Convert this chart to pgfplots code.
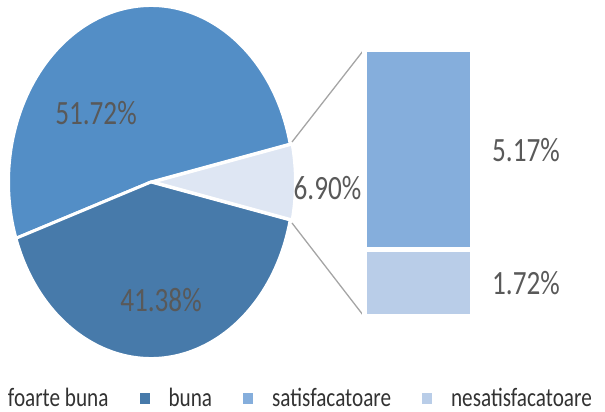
\documentclass[border=0pt]{standalone}
\usepackage{pgfplots}
\pgfplotsset{compat=1.18}
\usepackage{fontspec}
\setmainfont{Carlito}
\newfontfamily\cfont[FakeStretch=0.8]{Carlito}

\definecolor{cFoarte}{RGB}{83,142,198}
\definecolor{cBuna}{RGB}{71,122,170}
\definecolor{cSat}{RGB}{133,174,220}
\definecolor{cNes}{RGB}{185,205,232}
\definecolor{cPale}{RGB}{222,230,243}
\definecolor{cLabel}{RGB}{89,89,89}
\definecolor{cLegend}{RGB}{50,50,50}
\definecolor{cLine}{RGB}{165,165,165}

\newcommand{\labelfont}{\cfont\fontsize{34}{40}\selectfont}
\newcommand{\legendfont}{\cfont\fontsize{26.5}{31}\selectfont}

\pgfplotsset{
  legsq/.style={legend image code/.code={\fill[##1, draw=none] (0pt,-5.5pt) rectangle (10pt,5.5pt);}},
}

\begin{document}
\begin{tikzpicture}
\useasboundingbox (0,0) rectangle (605pt,412pt);

% pie shares (%): foarte buna, buna, other (satisfacatoare + nesatisfacatoare)
\pgfmathsetmacro{\hA}{6.90*3.6/2}
\pgfmathsetmacro{\aA}{\hA+51.72*3.6}
\pgfmathsetmacro{\aB}{\aA+41.38*3.6}
\def\cx{151}
\def\cy{230}

\begin{axis}[
    at={(0,0)}, anchor=south west,
    width=605pt, height=412pt, scale only axis,
    xmin=0, xmax=605, ymin=0, ymax=412,
    hide axis, clip=false,
    legend style={
        at={(axis cs:-21,13.5)}, anchor=west,
        draw=none, fill=none, inner sep=0pt, outer sep=0pt,
        legend columns=4,
        font=\legendfont, text=cLegend,
        cells={anchor=west},
        nodes={inner sep=0pt},
        /tikz/every odd column/.append style={column sep=19pt},
        /tikz/every even column/.append style={column sep=31pt},
    },
]
\addlegendimage{legsq, fill=cFoarte}
\addlegendentry{foarte buna}
\addlegendimage{legsq, fill=cBuna}
\addlegendentry{buna}
\addlegendimage{legsq, fill=cSat}
\addlegendentry{satisfacatoare}
\addlegendimage{legsq, fill=cNes}
\addlegendentry{nesatisfacatoare}

\fill[cFoarte, draw=white, line width=3pt] (axis cs:\cx,\cy) -- ++(\hA:142.5pt and 176.5pt)
    arc[start angle=\hA, end angle=\aA, x radius=142.5pt, y radius=176.5pt] -- cycle;
\fill[cBuna, draw=white, line width=3pt] (axis cs:\cx,\cy) -- ++(\aA:142.5pt and 176.5pt)
    arc[start angle=\aA, end angle=\aB, x radius=142.5pt, y radius=176.5pt] -- cycle;
\fill[cPale, draw=white, line width=3pt] ([xshift=2pt]axis cs:\cx,\cy) -- ++(-\hA:142.5pt and 176.5pt)
    arc[start angle=-\hA, end angle=\hA, x radius=142.5pt, y radius=176.5pt] -- cycle;

\draw[cLine, line width=1.3pt] (axis cs:292,270) -- (axis cs:363,361);
\draw[cLine, line width=1.3pt] (axis cs:292,189) -- (axis cs:363,97);

\node[anchor=base, font=\labelfont, text=cLabel] at (axis cs:96,287) {51.72\%};
\node[anchor=base, font=\labelfont, text=cLabel] at (axis cs:161,100) {41.38\%};
\node[anchor=base, font=\labelfont, text=cLabel] at (axis cs:327.5,212) {6.90\%};
\node[anchor=base, font=\labelfont, text=cLabel] at (axis cs:526,250) {5.17\%};
\node[anchor=base, font=\labelfont, text=cLabel] at (axis cs:526,117) {1.72\%};
\end{axis}

\begin{axis}[
    at={(364.5pt,95.5pt)}, anchor=south west,
    width=108pt, height=267pt, scale only axis,
    ybar stacked, bar width=108pt,
    xmin=-0.5, xmax=0.5, ymin=0, ymax=6.90,
    hide axis, clip=false,
]
\addplot[fill=cNes, draw=white, line width=5pt] coordinates {(0,1.72)};
\addplot[fill=cSat, draw=white, line width=5pt] coordinates {(0,5.17)};
\end{axis}
\end{tikzpicture}
\end{document}
